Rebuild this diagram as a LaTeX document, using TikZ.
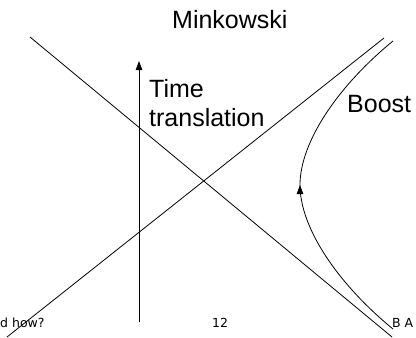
\documentclass[tikz,border=0pt]{standalone}
\usepackage{fontspec}
\setmainfont{Liberation Sans}
\newfontfamily\footfont{DejaVu Sans}
\usetikzlibrary{arrows.meta,decorations.markings}
\begin{document}
\begin{tikzpicture}[x=1pt,y=-1pt,
  ln/.style={line width=0.8pt},
  lbl/.style={inner sep=0pt,anchor=base west,font=\fontsize{25}{29}\selectfont},
  ftr/.style={inner sep=0pt,anchor=base west,font=\footfont\fontsize{12.5}{14}\selectfont},
  tip/.style={-{Triangle[length=9pt,width=6.5pt]}}]
\useasboundingbox (0,0) rectangle (416,338);
% light cone lines
\coordinate (a1) at (30,37);
\coordinate (a2) at (392,337);
\coordinate (b1) at (7,337);
\coordinate (b2) at (384,38);
\draw[ln] (a1) -- (a2);
\draw[ln] (b1) -- (b2);
% time translation arrow
\coordinate (t0) at (139,322);
\coordinate (t1) at (139,61);
\draw[ln,tip] (t0) -- (t1);
% boost hyperbola
\coordinate (h0) at (393,329);
\coordinate (hv) at (300,185);
\coordinate (h1) at (393,41);
\draw[ln,decoration={markings,mark=at position 0.5 with {\arrow{Triangle[length=9pt,width=6.5pt]}}},postaction={decorate}]
  (h0) .. controls (338,284) and (300,228) .. (hv)
       .. controls (300,142) and (338,86) .. (h1);
% labels
\node[lbl] (title) at (172,28) {Minkowski};
\node[lbl] (time) at (149,97) {Time};
\node[lbl] (trans) at (149,126) {translation};
\node[lbl] (boost) at (347,112) {Boost};
% footer
\node[ftr] (fl) at (0,327) {d how?};
\node[ftr] (fc) at (212,327) {12};
\node[ftr] (fr) at (392,327) {B A};
\end{tikzpicture}
\end{document}
